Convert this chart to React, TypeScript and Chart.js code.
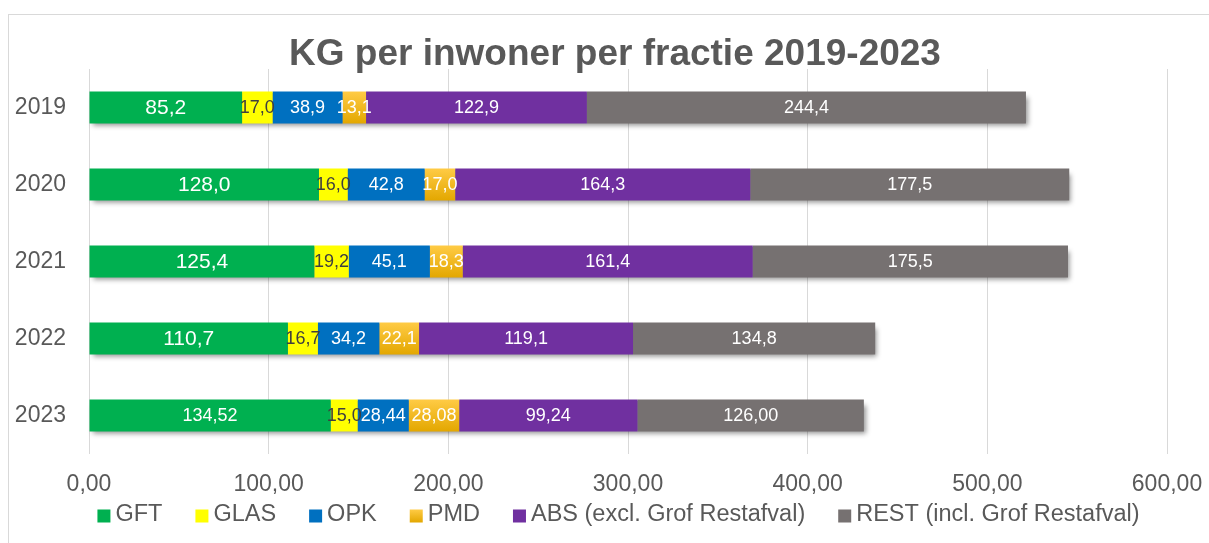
import { useEffect, useRef } from "react";
import { Chart, registerables } from "chart.js";

Chart.register(...registerables);

// ---------- data ----------
const years = ["2019", "2020", "2021", "2022", "2023"];
const seriesNames = [
  "GFT",
  "GLAS",
  "OPK",
  "PMD",
  "ABS (excl. Grof Restafval)",
  "REST (incl. Grof Restafval)",
];
const gft = [85.2, 128.0, 125.4, 110.7, 134.52];
const glas = [17.0, 16.0, 19.2, 16.7, 15.0];
const opk = [38.9, 42.8, 45.1, 34.2, 28.44];
const pmd = [13.1, 17.0, 18.3, 22.1, 28.08];
const abs = [122.9, 164.3, 161.4, 119.1, 99.24];
const rest = [244.4, 177.5, 175.5, 134.8, 126.0];
// number of decimals shown in each value label
const yearDecimals = [1, 1, 1, 1, 2];
const glasDecimals = [1, 1, 1, 1, 1];
const xMin = 0;
const xMax = 600;
const xStep = 100;
const title = "KG per inwoner per fractie 2019-2023";

// ---------- styles ----------
const FONT = '"Liberation Sans", Arial, Helvetica, sans-serif';
const TEXT = "#595959";
const colors = ["#00b050", "#ffff00", "#0070c0", "#ffc000", "#7030a0", "#767171"];
const BAR_PCT = 0.415;

const seriesValues = [gft, glas, opk, pmd, abs, rest];
const seriesDecimals = [yearDecimals, glasDecimals, yearDecimals, yearDecimals, yearDecimals, yearDecimals];

const fmt = (v: number, d: number) => v.toFixed(d).replace(".", ",");

function pmdGradient(ctx: CanvasRenderingContext2D, top: number, bottom: number) {
  const g = ctx.createLinearGradient(0, top, 0, bottom);
  g.addColorStop(0, "#ffcb45");
  g.addColorStop(1, "#e3a700");
  return g;
}

const shadowPlugin = {
  id: "barShadow",
  beforeDatasetsDraw(chart: any) {
    const ctx = chart.ctx as CanvasRenderingContext2D;
    const xs = chart.scales.x;
    const ys = chart.scales.y;
    const meta0 = chart.getDatasetMeta(0);
    ctx.save();
    ctx.shadowColor = "rgba(0,0,0,0.42)";
    ctx.shadowBlur = 5;
    ctx.shadowOffsetX = 3;
    ctx.shadowOffsetY = 4;
    ctx.fillStyle = "#8a8a8a";
    years.forEach((_, i) => {
      const total = seriesValues.reduce((s, arr) => s + arr[i], 0);
      const el = meta0.data[i];
      const h = el ? el.height : 32;
      const yc = ys.getPixelForValue(i);
      const x0 = xs.getPixelForValue(0);
      const x1 = xs.getPixelForValue(total);
      ctx.fillRect(x0 + 1, yc - h / 2 + 1, x1 - x0 - 2, h - 2);
    });
    ctx.restore();
  },
};

const labelPlugin = {
  id: "valueLabels",
  afterDatasetsDraw(chart: any) {
    const ctx = chart.ctx as CanvasRenderingContext2D;
    ctx.save();
    ctx.textAlign = "center";
    ctx.textBaseline = "middle";
    chart.data.datasets.forEach((ds: any, di: number) => {
      const meta = chart.getDatasetMeta(di);
      meta.data.forEach((el: any, i: number) => {
        const { x, y, base } = el.getProps(["x", "y", "base"], true);
        const v = ds.data[i] as number;
        const size = di === 0 && i < 4 ? 21 : 18;
        ctx.font = `${size}px ${FONT}`;
        ctx.fillStyle = di === 1 ? "#3f3f3f" : "#ffffff";
        ctx.fillText(fmt(v, seriesDecimals[di][i]), (x + base) / 2, y + 1);
      });
    });
    ctx.restore();
  },
};

const titlePlugin = {
  id: "customTitle",
  afterDraw(chart: any) {
    const ctx = chart.ctx as CanvasRenderingContext2D;
    ctx.save();
    ctx.font = `bold 37px ${FONT}`;
    ctx.fillStyle = TEXT;
    ctx.textAlign = "center";
    ctx.textBaseline = "middle";
    ctx.fillText(title, 615, 55);
    ctx.restore();
  },
};

const legendPlugin = {
  id: "customLegend",
  afterDraw(chart: any) {
    const ctx = chart.ctx as CanvasRenderingContext2D;
    ctx.save();
    ctx.font = `23.5px ${FONT}`;
    ctx.textBaseline = "middle";
    ctx.textAlign = "left";
    const box = 13;
    const gapBox = 5;
    const gapItem = 33;
    const widths = seriesNames.map((n) => ctx.measureText(n).width);
    const total =
      widths.reduce((s, w) => s + w + box + gapBox, 0) + gapItem * (seriesNames.length - 1);
    let x = 618.5 - total / 2;
    const cy = 516;
    seriesNames.forEach((n, i) => {
      const top = cy - box / 2;
      ctx.fillStyle = i === 3 ? pmdGradient(ctx, top, top + box) : colors[i];
      ctx.fillRect(x, top, box, box);
      ctx.fillStyle = TEXT;
      ctx.fillText(n, x + box + gapBox, cy - 1);
      x += box + gapBox + widths[i] + gapItem;
    });
    ctx.restore();
  },
};

export default function App() {
  const ref = useRef<HTMLCanvasElement | null>(null);

  useEffect(() => {
    if (!ref.current) return;
    Chart.defaults.font.family = FONT;
    Chart.defaults.color = TEXT;

    const datasets = seriesNames.map((name, si) => ({
      label: name,
      data: seriesValues[si],
      backgroundColor:
        si === 3
          ? (c: any) => {
              const chart = c.chart;
              const ys = chart.scales && chart.scales.y;
              if (!ys || c.type !== "data" || !chart.chartArea) return colors[3];
              const t = (ys.height / years.length) * BAR_PCT;
              const yc = ys.getPixelForValue(c.dataIndex);
              return pmdGradient(chart.ctx, yc - t / 2, yc + t / 2);
            }
          : colors[si],
      borderWidth: 0,
      barPercentage: BAR_PCT,
      categoryPercentage: 1,
    }));

    const chart = new Chart(ref.current, {
      type: "bar",
      data: { labels: years, datasets },
      options: {
        indexAxis: "y",
        animation: false,
        responsive: true,
        maintainAspectRatio: false,
        events: [],
        layout: { padding: { top: 69, left: 15, right: 42, bottom: 42 } },
        plugins: {
          legend: { display: false },
          title: { display: false },
          tooltip: { enabled: false },
        },
        scales: {
          x: {
            stacked: true,
            min: xMin,
            max: xMax,
            afterFit: (s: any) => {
              s.height = 47;
              s.paddingLeft = 0;
              s.paddingRight = 0;
            },
            ticks: {
              stepSize: xStep,
              padding: 17,
              color: TEXT,
              font: { size: 23, family: FONT },
              callback: (v: any) => fmt(Number(v), 2),
            },
            grid: { color: "#d9d9d9", lineWidth: 1, drawTicks: false },
            border: { display: false },
          },
          y: {
            stacked: true,
            afterFit: (s: any) => {
              s.width = 74;
            },
            ticks: {
              padding: 23,
              color: TEXT,
              font: { size: 23, family: FONT },
            },
            grid: { display: false, drawTicks: false },
            border: { display: false },
          },
        },
      },
      plugins: [shadowPlugin, labelPlugin, titlePlugin, legendPlugin],
    });
    return () => chart.destroy();
  }, []);

  return (
    <div
      style={{
        position: "fixed",
        left: 0,
        top: 0,
        width: 1209,
        height: 543,
        overflow: "hidden",
        background: "#ffffff",
      }}
    >
      <div
        style={{
          position: "absolute",
          left: 8,
          top: 14,
          width: 1210,
          height: 600,
          border: "1px solid #d9d9d9",
        }}
      />
      <div style={{ position: "absolute", left: 0, top: 0, width: 1209, height: 543 }}>
        <canvas ref={ref} />
      </div>
    </div>
  );
}
